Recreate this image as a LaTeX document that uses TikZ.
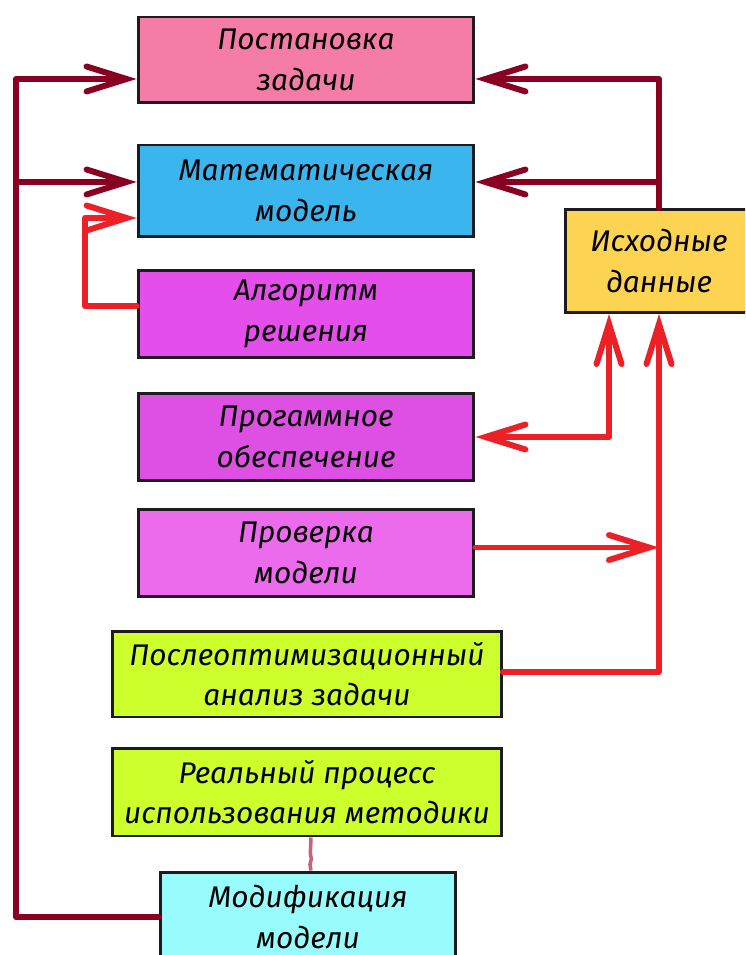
\documentclass[tikz,border=0pt]{standalone}
\usepackage{fontspec}
\setmainfont{Fira Sans}
\usetikzlibrary{positioning,calc,arrows.meta,decorations.pathmorphing}

\definecolor{backred}{HTML}{8A0022}
\definecolor{fwdred}{HTML}{EC2027}
\definecolor{seamred}{HTML}{C8607E}
\definecolor{boxedge}{HTML}{1E1A1E}
\definecolor{pinkbox}{HTML}{F47CA7}
\definecolor{bluebox}{HTML}{3BB5EE}
\definecolor{algbox}{HTML}{E44EEA}
\definecolor{progbox}{HTML}{DD50E3}
\definecolor{checkbox}{HTML}{EC6AEC}
\definecolor{limebox}{HTML}{CCFF2B}
\definecolor{cyanbox}{HTML}{99FCFC}
\definecolor{srcbox}{HTML}{FDD352}

\tikzset{
  block/.style={draw=boxedge, line width=1.7pt, inner sep=2pt, align=center,
    font=\itshape\fontsize{17}{23}\selectfont},
  backline/.style={draw=backred, line width=3.4pt, line cap=round, line join=round},
  fwdline/.style={draw=fwdred, line width=3.4pt, line cap=round, line join=round},
  openbarb/.tip={Straight Barb[length=0.8cm, width=0.5cm, line cap=round]}
}

\begin{document}
\begin{tikzpicture}[x=0.02cm, y=-0.02cm]
    \clip (0,0) rectangle (745,955); % Frame
    \fill [white] (0,0) rectangle (745,955);

    \node [block, fill=pinkbox, minimum width=6.72cm, minimum height=1.72cm] (task) at (306,60) {Постановка\\задачи};
    \node [block, fill=bluebox, minimum width=6.72cm, minimum height=1.84cm] (math) at (306,191) {Математическая\\модель};
    \node [block, fill=algbox, minimum width=6.72cm, minimum height=1.74cm] (alg) at (306,314) {Алгоритм\\решения};
    \node [block, fill=progbox, minimum width=6.72cm, minimum height=1.76cm] (prog) at (306,437) {Прогаммное\\обеспечение};
    \node [block, fill=checkbox, minimum width=6.72cm, minimum height=1.74cm] (check) at (306,553) {Проверка\\модели};
    \node [block, fill=limebox, minimum width=7.78cm, minimum height=1.72cm] (post) at (307,674) {Послеоптимизационный\\анализ задачи};
    \node [block, fill=limebox, minimum width=7.78cm, minimum height=1.76cm] (real) at (307,792) {Реальный процесс\\использования методики};
    \node [block, fill=cyanbox, minimum width=5.9cm, minimum height=1.8cm] (modif) at (308,917) {Модификация\\модели};
    \node [block, fill=srcbox, minimum width=3.76cm, minimum height=2.06cm] (src) at (659,261) {Исходные\\данные};

    \coordinate (lbus) at (16,79); % left return bus
    \coordinate (lmid) at (16,182);
    \coordinate (rbus) at (659,79); % right feed
    \coordinate (aturn) at (85,218);
    \coordinate (chkout) at ([yshift=0.11cm]check.east);

    % Back links
    \draw [backline, -{openbarb}] (modif.west) -| (lbus) -- (task.west |- lbus);
    \draw [backline, -{openbarb}] (lmid) -- (math.west |- lmid);
    \draw [backline, -{openbarb}] (src.north) -- (rbus) -- (task.east |- rbus);
    \draw [backline, -{openbarb}] (src.north |- lmid) -- (math.east |- lmid);

    % Forward links
    \draw [fwdline, -{openbarb}] ([yshift=0.16cm]alg.west) -| (aturn) -- (math.west |- aturn);
    \draw [fwdline, {openbarb}-{openbarb}] (prog.east) -| ([xshift=-1cm]src.south);
    \draw [fwdline, -{openbarb}] (chkout) -- (src.south |- chkout);
    \draw [fwdline, -{openbarb}] ([yshift=0.04cm]post.east) -| (src.south);

    \draw [seamred, line width=2pt, decorate, decoration={random steps, segment length=3pt, amplitude=0.6pt}] ([xshift=0.08cm]real.south) -- ([xshift=0.06cm]modif.north); % Seam
\end{tikzpicture}
\end{document}
